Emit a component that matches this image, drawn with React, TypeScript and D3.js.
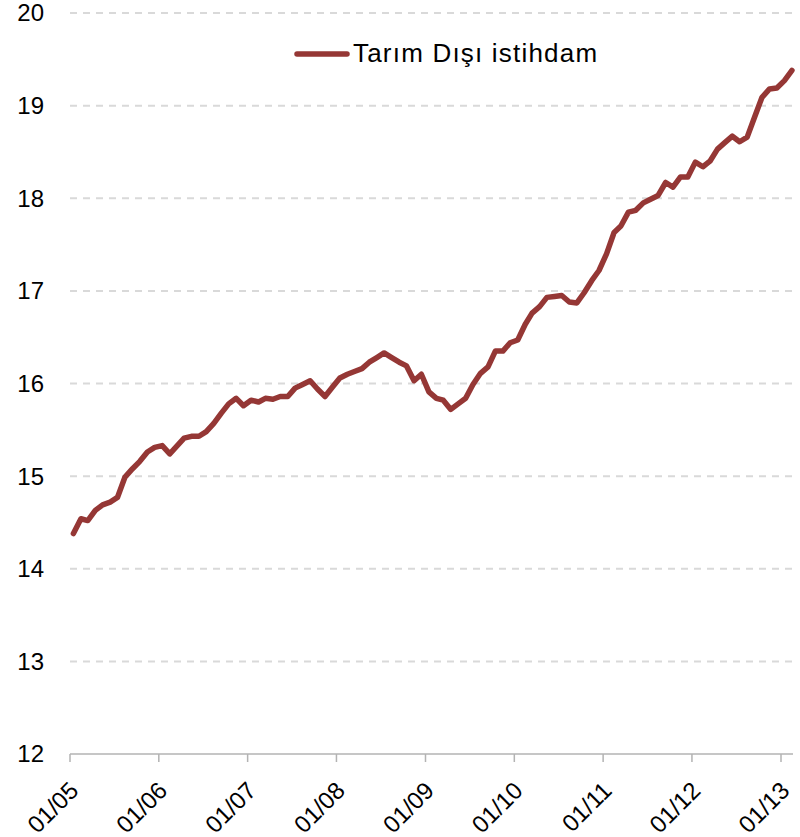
import React, { useEffect, useRef } from "react";
import * as d3 from "d3";

// monthly values (million), Jan 2005 - Feb 2013
const y2005 = [14.38, 14.54, 14.52, 14.63, 14.69, 14.72, 14.77, 14.99, 15.08, 15.16, 15.26, 15.31];
const y2006 = [15.33, 15.24, 15.32, 15.41, 15.43, 15.43, 15.48, 15.57, 15.68, 15.78, 15.84, 15.76];
const y2007 = [15.82, 15.8, 15.84, 15.83, 15.86, 15.86, 15.95, 15.99, 16.03, 15.94, 15.86, 15.96];
const y2008 = [16.06, 16.1, 16.13, 16.16, 16.23, 16.28, 16.33, 16.28, 16.23, 16.19, 16.03, 16.1];
const y2009 = [15.91, 15.84, 15.82, 15.72, 15.78, 15.84, 15.99, 16.11, 16.18, 16.35, 16.35, 16.44];
const y2010 = [16.47, 16.64, 16.76, 16.83, 16.93, 16.94, 16.95, 16.88, 16.87, 16.98, 17.11, 17.22];
const y2011 = [17.4, 17.63, 17.7, 17.85, 17.87, 17.95, 17.99, 18.03, 18.17, 18.12, 18.23, 18.23];
const y2012 = [18.39, 18.34, 18.4, 18.53, 18.6, 18.67, 18.61, 18.66, 18.88, 19.09, 19.18, 19.19];
const y2013 = [19.27, 19.38];

const seriesName = "Tarım Dışı istihdam";
const yTicks = [12, 13, 14, 15, 16, 17, 18, 19, 20];
const xTickLabels = ["01/05", "01/06", "01/07", "01/08", "01/09", "01/10", "01/11", "01/12", "01/13"];

const FONT = "'Liberation Sans', Arial, sans-serif";
const RED = "#953735";

const App = () => {
  const svgRef = useRef(null);
  const width = 800;
  const height = 837;
  const margin = { top: 13, right: 7, bottom: 83, left: 70 };

  useEffect(() => {
    document.body.style.margin = "0";
    const svg = d3.select(svgRef.current);
    svg.selectAll("*").remove();

    const values = [].concat(y2005, y2006, y2007, y2008, y2009, y2010, y2011, y2012, y2013);
    const data = values.map((v, i) => ({ date: new Date(2005, i, 15), value: v }));

    const x = d3
      .scaleTime()
      .domain([new Date(2005, 0, 1), new Date(2013, 0, 1)])
      .range([margin.left, 781]);
    const y = d3
      .scaleLinear()
      .domain([12, 20])
      .range([height - margin.bottom, margin.top]);
    const xEnd = width - margin.right;

    // grid lines
    svg
      .append("g")
      .selectAll("line")
      .data(yTicks.filter((t) => t > 12))
      .enter()
      .append("line")
      .attr("x1", margin.left)
      .attr("x2", xEnd)
      .attr("y1", (d) => y(d))
      .attr("y2", (d) => y(d))
      .attr("stroke", "#d9d9d9")
      .attr("stroke-width", 2)
      .attr("stroke-dasharray", "7,6");

    // y labels
    svg
      .append("g")
      .selectAll("text")
      .data(yTicks)
      .enter()
      .append("text")
      .attr("x", 44)
      .attr("y", (d) => y(d))
      .attr("dy", "0.35em")
      .attr("text-anchor", "end")
      .style("font-family", FONT)
      .style("font-size", "24px")
      .attr("fill", "#000")
      .text((d) => d);

    // x axis
    svg
      .append("line")
      .attr("x1", margin.left)
      .attr("x2", xEnd)
      .attr("y1", y(12))
      .attr("y2", y(12))
      .attr("stroke", "#b3b3b3")
      .attr("stroke-width", 1.5);

    const tickDates = xTickLabels.map((_, i) => new Date(2005 + i, 0, 1));
    const tg = svg
      .append("g")
      .selectAll("g")
      .data(tickDates)
      .enter()
      .append("g")
      .attr("transform", (d) => "translate(" + x(d) + "," + y(12) + ")");
    tg.append("line")
      .attr("y1", 0)
      .attr("y2", 8)
      .attr("stroke", "#b3b3b3")
      .attr("stroke-width", 1.5);
    tg.append("text")
      .attr("text-anchor", "end")
      .attr("transform", "translate(10,38) rotate(-45)")
      .style("font-family", FONT)
      .style("font-size", "24px")
      .attr("fill", "#000")
      .text((d, i) => xTickLabels[i]);

    // series line
    const line = d3
      .line()
      .x((d) => x(d.date))
      .y((d) => y(d.value));
    svg
      .append("path")
      .datum(data)
      .attr("d", line)
      .attr("fill", "none")
      .attr("stroke", RED)
      .attr("stroke-width", 5.5)
      .attr("stroke-linejoin", "round")
      .attr("stroke-linecap", "round");

    // legend
    const lg = svg.append("g").attr("transform", "translate(297,54)");
    lg.append("line")
      .attr("x1", 0)
      .attr("x2", 50)
      .attr("stroke", RED)
      .attr("stroke-width", 5.5)
      .attr("stroke-linecap", "round");
    lg.append("text")
      .attr("x", 56)
      .attr("y", 8)
      .style("font-family", FONT)
      .style("font-size", "26px")
      .style("letter-spacing", "1.2px")
      .attr("fill", "#000")
      .text(seriesName);
  }, []);

  return <svg ref={svgRef} width={width} height={height} style={{ display: "block" }}></svg>;
};

export default App;
